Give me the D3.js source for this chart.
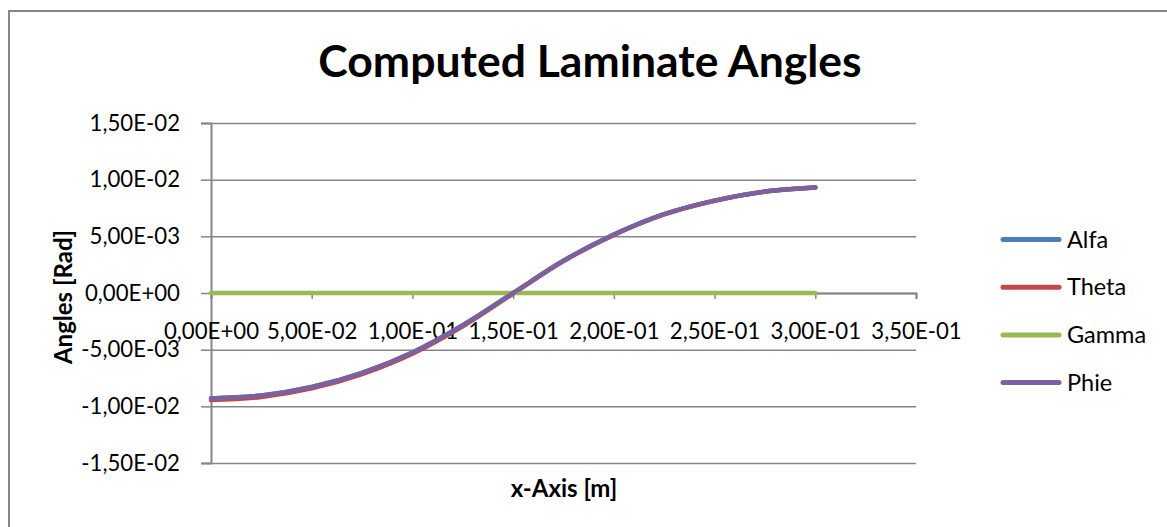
<!DOCTYPE html>
<html>
<head>
<meta charset="utf-8">
<script src="https://cdn.jsdelivr.net/npm/d3@7"></script>
<style>
  body { margin: 0; background: #fff; }
  svg { display: block; font-family: Lato, "Open Sans", sans-serif; }
</style>
</head>
<body>
<div id="chart"></div>
<script>
// x positions along the laminate [m]
const xValues = [0, 0.025, 0.05, 0.075, 0.1, 0.125, 0.15, 0.175, 0.2, 0.225, 0.25, 0.275, 0.3];
// angles [rad]
const alfa  = [-9.30e-3, -9.05e-3, -8.30e-3, -7.05e-3, -5.25e-3, -2.85e-3, 0, 2.85e-3, 5.15e-3, 6.95e-3, 8.15e-3, 8.95e-3, 9.30e-3];
const theta = [-9.45e-3, -9.18e-3, -8.42e-3, -7.15e-3, -5.35e-3, -2.93e-3, -0.05e-3, 2.82e-3, 5.12e-3, 6.93e-3, 8.14e-3, 8.94e-3, 9.30e-3];
const gamma = [0, 0, 0, 0, 0, 0, 0, 0, 0, 0, 0, 0, 0];
const phie  = [-9.30e-3, -9.05e-3, -8.30e-3, -7.05e-3, -5.25e-3, -2.85e-3, 0, 2.85e-3, 5.15e-3, 6.95e-3, 8.15e-3, 8.95e-3, 9.30e-3];
const seriesNames = ['Alfa', 'Theta', 'Gamma', 'Phie'];
const seriesColors = ['#4a7ebb', '#be4b48', '#98b954', '#7d60a0'];
const xTicks = [0, 0.05, 0.1, 0.15, 0.2, 0.25, 0.3, 0.35];
const yTicks = [-0.015, -0.01, -0.005, 0, 0.005, 0.01, 0.015];

const FONT = 'Lato, "Open Sans", sans-serif';

// Excel style scientific labels with comma decimals
function sci(v) {
    if (v === 0) return '0,00E+00';
    let e = Math.floor(Math.log10(Math.abs(v)) + 1e-9);
    let m = v / Math.pow(10, e);
    const sign = e < 0 ? '-' : '+';
    return m.toFixed(2).replace('.', ',') + 'E' + sign + String(Math.abs(e)).padStart(2, '0');
}

function styleAxis(axisG) {
    axisG.attr('font-family', null).attr('font-size', null);
    axisG.select('.domain').attr('stroke', '#868686').attr('stroke-width', 2);
    axisG.selectAll('line').attr('stroke', '#868686').attr('stroke-width', 1.5);
    axisG.selectAll('text')
        .style('font-family', FONT)
        .style('font-size', '22.2px')
        .style('fill', '#000');
}

function createChart() {
    const W = 1167, H = 527;
    const margin = { top: 123, right: 251, bottom: 64, left: 211 };
    const width = W - margin.left - margin.right;
    const height = H - margin.top - margin.bottom;

    const svg = d3.select('#chart').append('svg')
        .attr('width', W)
        .attr('height', H);

    // chart frame
    svg.append('rect')
        .attr('x', 9).attr('y', 11)
        .attr('width', W + 20).attr('height', H + 20)
        .attr('fill', 'none')
        .attr('stroke', '#868686')
        .attr('stroke-width', 2);

    svg.append('text')
        .attr('x', 590)
        .attr('y', 77)
        .attr('text-anchor', 'middle')
        .style('font-family', FONT)
        .style('font-size', '44.5px')
        .style('font-weight', 'bold')
        .text('Computed Laminate Angles');

    const g = svg.append('g')
        .attr('transform', `translate(${margin.left},${margin.top})`);

    const x = d3.scaleLinear().domain([0, 0.35]).range([0, width]);
    const y = d3.scaleLinear().domain([-0.015, 0.015]).range([height, 0]);

    // gridlines
    g.append('g')
        .attr('class', 'grid')
        .call(d3.axisLeft(y).tickValues(yTicks).tickSize(-width).tickFormat(''))
        .call(a => a.select('.domain').remove())
        .call(a => a.selectAll('line').attr('stroke', '#868686').attr('stroke-width', 1.5));

    // y tick marks and labels
    g.append('g')
        .call(d3.axisLeft(y).tickValues(yTicks).tickSize(10).tickPadding(21).tickFormat(sci))
        .call(styleAxis);

    // x axis across zero
    g.append('g')
        .attr('transform', `translate(0,${y(0)})`)
        .call(d3.axisBottom(x).tickValues(xTicks).tickSize(6).tickPadding(24).tickFormat(sci))
        .call(styleAxis);

    // Axis titles
    g.append('text')
        .attr('transform', 'rotate(-90)')
        .attr('x', -(297 - margin.top))
        .attr('y', 72 - margin.left)
        .attr('text-anchor', 'middle')
        .style('font-family', FONT)
        .style('font-size', '24px')
        .style('font-weight', 'bold')
        .text('Angles [Rad]');

    g.append('text')
        .attr('x', 564 - margin.left)
        .attr('y', 497 - margin.top)
        .attr('text-anchor', 'middle')
        .style('font-family', FONT)
        .style('font-size', '24px')
        .style('font-weight', 'bold')
        .text('x-Axis [m]');

    const allSeries = [alfa, theta, gamma, phie];
    const line = d3.line()
        .x((d, i) => x(xValues[i]))
        .y(d => y(d))
        .curve(d3.curveMonotoneX);

    allSeries.forEach((s, i) => {
        g.append('path')
            .datum(s)
            .attr('fill', 'none')
            .attr('stroke', seriesColors[i])
            .attr('stroke-width', 4.5)
            .attr('stroke-linecap', 'round')
            .attr('d', line);
    });

    // legend
    const legend = svg.append('g').attr('transform', 'translate(1003,239.5)');
    const items = legend.selectAll('g')
        .data(seriesNames)
        .enter().append('g')
        .attr('transform', (d, i) => `translate(0,${i * 47.7})`);
    items.append('line')
        .attr('x1', 0).attr('x2', 56)
        .attr('stroke', (d, i) => seriesColors[i])
        .attr('stroke-width', 5)
        .attr('stroke-linecap', 'round');
    items.append('text')
        .attr('x', 64)
        .attr('dy', '0.35em')
        .style('font-family', FONT)
        .style('font-size', '23.5px')
        .text(d => d);
}

createChart();
</script>
</body>
</html>
